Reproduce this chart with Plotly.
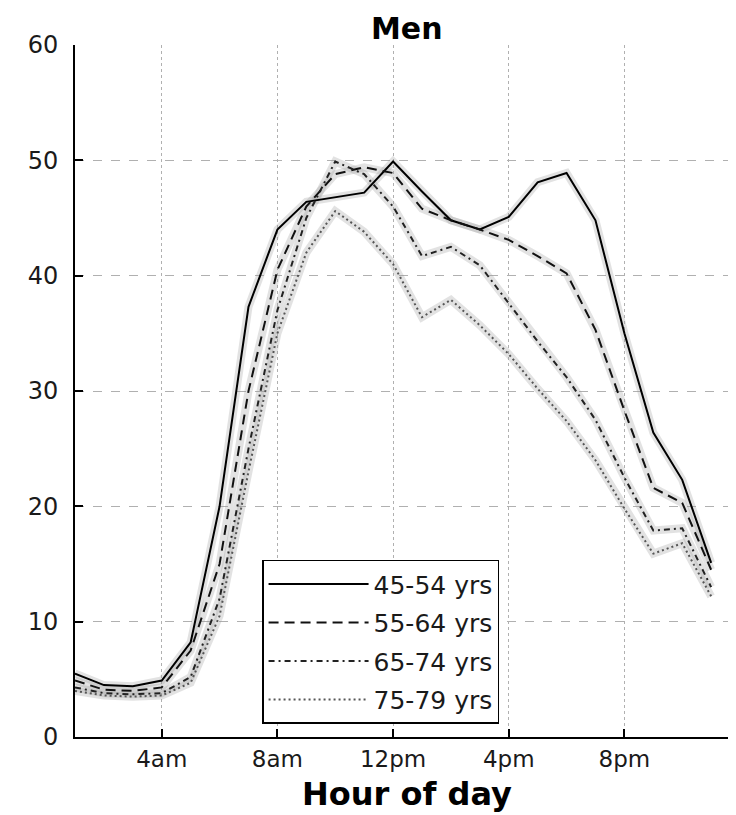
import plotly.graph_objects as go

hours = list(range(1, 24))
tick_vals = [4, 8, 12, 16, 20]
tick_text = ["4am", "8am", "12pm", "4pm", "8pm"]
y_ticks = [0, 10, 20, 30, 40, 50, 60]

age_45_54 = [5.5, 4.5, 4.4, 4.9, 8.2, 20.0, 37.3, 44.0, 46.4, 46.8, 47.2, 49.9,
             47.3, 44.8, 44.0, 45.1, 48.1, 48.9, 44.8, 35.0, 26.4, 22.3, 15.1]
age_55_64 = [4.9, 4.1, 4.0, 4.3, 7.5, 15.0, 30.0, 40.5, 46.0, 48.8, 49.4, 48.9,
             45.8, 44.8, 44.0, 43.1, 41.7, 40.2, 35.3, 28.3, 21.6, 20.3, 14.5]
age_65_74 = [4.3, 3.8, 3.7, 3.8, 5.2, 12.0, 25.0, 37.0, 45.0, 49.9, 48.8, 46.0,
             41.7, 42.5, 40.9, 37.6, 34.3, 31.2, 27.5, 22.5, 17.9, 18.1, 13.0]
age_75_79 = [4.0, 3.6, 3.5, 3.6, 4.7, 10.5, 23.0, 35.0, 42.0, 45.6, 43.8, 41.0,
             36.4, 37.9, 35.7, 33.2, 30.2, 27.4, 24.0, 19.8, 15.9, 16.8, 12.2]

series_names = ["45-54 yrs", "55-64 yrs", "65-74 yrs", "75-79 yrs"]
series_vals = [age_45_54, age_55_64, age_65_74, age_75_79]
dashes = ["solid", "10px,6px", "6px,4px,2px,4px", "2px,3px"]
colors = ["#000000", "#111111", "#222222", "#555555"]

FONT = "DejaVu Sans"
fig = go.Figure()

# light grey halo under each series
for name, vals in zip(series_names, series_vals):
    fig.add_trace(go.Scatter(x=hours, y=vals, mode="lines", legendgroup=name,
                             showlegend=False, hoverinfo="skip",
                             line=dict(color="rgba(150,150,150,0.28)", width=8)))

for name, vals, d, c in zip(series_names, series_vals, dashes, colors):
    fig.add_trace(go.Scatter(x=hours, y=vals, mode="lines", name=name, legendgroup=name,
                             line=dict(color=c, width=2, dash=d)))

# page body has an 8px margin, so the figure is shifted by 8px
fig.update_layout(
    width=728, height=807,
    margin=dict(l=67, r=0, t=37, b=78),
    paper_bgcolor="white", plot_bgcolor="white",
    font=dict(family=FONT, color="#1a1a1a", size=23),
    showlegend=True,
    legend=dict(x=0.283, y=0.256, xanchor="left", yanchor="top",
                bgcolor="white", bordercolor="black", borderwidth=1.5,
                font=dict(family=FONT, size=25, color="#1a1a1a"),
                tracegroupgap=3, itemwidth=100),
    xaxis=dict(range=[1, 23.86], tickvals=tick_vals, ticktext=tick_text,
               showgrid=True, gridcolor="#b0b0b0", griddash="dot", gridwidth=1,
               ticks="inside", ticklen=8, tickwidth=1.5, tickcolor="black",
               showline=True, linecolor="black", linewidth=2, mirror=False,
               zeroline=False, tickfont=dict(size=23, family=FONT, color="#1a1a1a"),
               ticklabelstandoff=0),
    yaxis=dict(range=[0, 60], tickvals=y_ticks,
               showgrid=True, gridcolor="#b0b0b0", griddash="dash", gridwidth=1,
               ticks="inside", ticklen=8, tickwidth=1.5, tickcolor="black",
               showline=True, linecolor="black", linewidth=2, mirror=False,
               zeroline=False, tickfont=dict(size=24, family=FONT, color="#1a1a1a"),
               ticklabelstandoff=10),
    annotations=[
        dict(text="<b>Men</b>", xref="paper", yref="paper", x=0.502, y=(737 - 28) / 692,
             xanchor="center", yanchor="middle", showarrow=False,
             font=dict(family=FONT, size=30, color="black")),
        dict(text="<b>Hour of day</b>", xref="paper", yref="paper", x=0.502, y=-57 / 692,
             xanchor="center", yanchor="middle", showarrow=False,
             font=dict(family=FONT, size=32, color="black")),
    ],
)

fig.write_html("out.html")
